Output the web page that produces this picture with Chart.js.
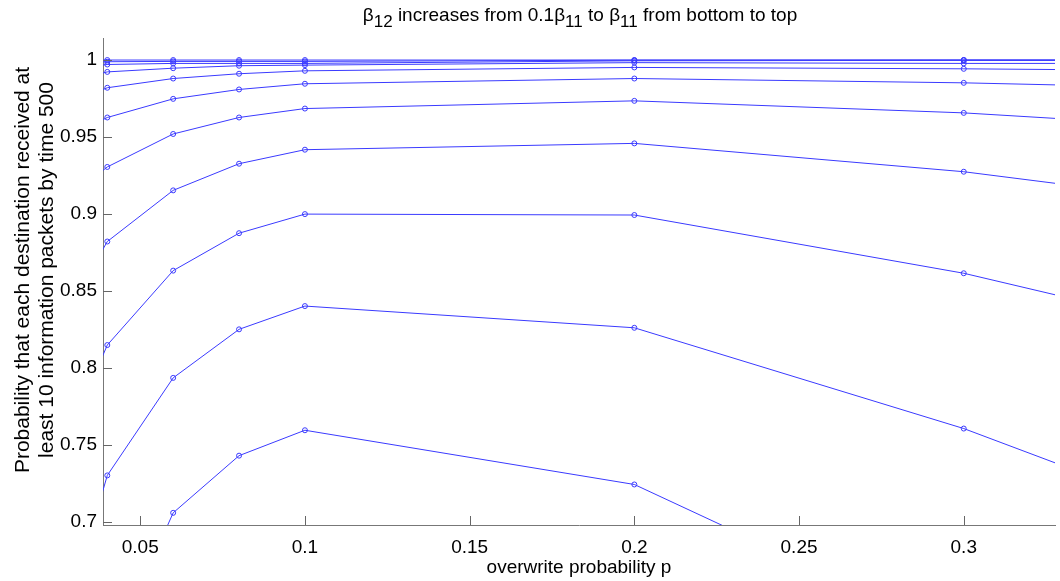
<!DOCTYPE html>
<html lang="en">
<head>
    <meta charset="UTF-8">
    <title>overwrite probability p</title>
    <script src="https://cdn.jsdelivr.net/npm/chart.js"></script>
    <style>
        body {
            margin: 0;
            background: #fff;
            font-family: "Liberation Sans", Arial, sans-serif;
        }

        .wrap {
            position: relative;
            width: 1060px;
            height: 581px;
        }

        /* MATLAB style title with subscripts */
        #title {
            position: absolute;
            top: 4px;
            left: 103px;
            width: 954px;
            text-align: center;
            font-size: 19px;
            line-height: 22px;
            color: #000;
        }

        #title sub {
            font-size: 17px;
            line-height: 0;
            vertical-align: -6px;
        }

        /* y label sits a bit above the middle of the axis, as in the original */
        #ylabel {
            position: absolute;
            left: -196px;
            top: 246px;
            width: 460px;
            height: 48px;
            text-align: center;
            font-size: 21px;
            line-height: 24px;
            color: #000;
            transform: rotate(-90deg);
            white-space: nowrap;
        }
    </style>
</head>
<body>
    <div class="wrap">
        <canvas id="chart" width="1060" height="581"></canvas>
        <div id="title">&beta;<sub>12</sub> increases from 0.1&beta;<sub>11</sub> to &beta;<sub>11</sub> from bottom to top</div>
        <div id="ylabel">Probability that each destination received at<br>least 10 information packets by time 500</div>
    </div>

    <script>
        // overwrite probability p (the first and last points sit outside the visible axis range)
        const pValues = [0.02, 0.04, 0.06, 0.08, 0.1, 0.2, 0.3, 0.4];

        // one curve per beta12 value, from bottom (0.1 beta11) to top (beta11)
        const curve1  = [0.500, 0.610, 0.7061, 0.7432, 0.7597, 0.7245, 0.625, 0.525];
        const curve2  = [0.582, 0.7304, 0.7937, 0.8252, 0.8403, 0.8262, 0.7608, 0.6805];
        const curve3  = [0.7148, 0.815, 0.8633, 0.8876, 0.9000, 0.8994, 0.8616, 0.8112];
        const curve4  = [0.8068, 0.8822, 0.9154, 0.9327, 0.9418, 0.9459, 0.9275, 0.9004];
        const curve5  = [0.897, 0.9306, 0.952, 0.9627, 0.9685, 0.9735, 0.9657, 0.9528];
        const curve6  = [0.9424, 0.9627, 0.9748, 0.9809, 0.9846, 0.988, 0.9852, 0.9804];
        const curve7  = [0.965, 0.982, 0.988, 0.9911, 0.993, 0.9952, 0.9943, 0.9926];
        const curve8  = [0.9815, 0.9923, 0.9947, 0.9963, 0.9967, 0.9983, 0.9978, 0.9978];
        const curve9  = [0.9923, 0.9971, 0.9978, 0.9978, 0.9978, 0.9995, 0.9998, 0.9998];
        const curve10 = [0.997, 0.9989, 0.9991, 0.9991, 0.9991, 0.9999, 1.0, 1.0];
        const curve11 = [0.9995, 1.0, 1.0, 1.0, 1.0, 1.0, 1.0, 1.0];

        const curves = [curve1, curve2, curve3, curve4, curve5, curve6,
                        curve7, curve8, curve9, curve10, curve11];

        // tick labels
        const xTicks = [0.05, 0.1, 0.15, 0.2, 0.25, 0.3];
        const yTicks = [0.7, 0.75, 0.8, 0.85, 0.9, 0.95, 1];

        const blue = '#3a3aff';
        const font19 = { family: '"Liberation Sans", Arial, sans-serif', size: 19 };

        // MATLAB draws its ticks inside the axes
        const inwardTicks = {
            id: 'inwardTicks',
            afterDatasetsDraw(chart) {
                const { ctx, chartArea: a, scales: { x, y } } = chart;
                ctx.save();
                ctx.strokeStyle = '#666';
                ctx.lineWidth = 1;
                ctx.beginPath();
                x.ticks.forEach(t => {
                    const px = Math.round(x.getPixelForValue(t.value)) + 0.5;
                    ctx.moveTo(px, a.bottom);
                    ctx.lineTo(px, a.bottom - 9);
                });
                y.ticks.forEach(t => {
                    const py = Math.round(y.getPixelForValue(t.value)) + 0.5;
                    ctx.moveTo(a.left, py);
                    ctx.lineTo(a.left + 9, py);
                });
                ctx.stroke();
                ctx.restore();
            }
        };

        new Chart(document.getElementById('chart'), {
            type: 'line',
            data: {
                datasets: curves.map((c, i) => ({
                    label: 'curve ' + (i + 1),
                    data: pValues.map((p, j) => ({ x: p, y: c[j] })),
                    borderColor: blue,
                    borderWidth: 1,
                    pointRadius: 2.5,
                    pointBorderWidth: 1,
                    pointBorderColor: blue,
                    pointBackgroundColor: 'rgba(0,0,0,0)',
                    tension: 0,
                    clip: 0
                }))
            },
            options: {
                responsive: false,
                animation: false,
                events: [],
                layout: { padding: { top: 38, right: 3, left: 0, bottom: 0 } },
                plugins: {
                    legend: { display: false },
                    title: { display: false },
                    tooltip: { enabled: false }
                },
                scales: {
                    x: {
                        type: 'linear',
                        min: 0.0387,
                        max: 0.3277,
                        afterBuildTicks: s => { s.ticks = xTicks.map(v => ({ value: v })); },
                        afterFit: s => { s.height = 56; },
                        grid: { drawOnChartArea: false, drawTicks: false },
                        border: { color: '#777' },
                        ticks: {
                            font: font19,
                            color: '#000',
                            padding: 11,
                            maxRotation: 0,
                            callback: v => String(+v.toFixed(2))
                        },
                        title: {
                            display: true,
                            text: 'overwrite probability p',
                            font: font19,
                            color: '#000',
                            padding: { top: 0, bottom: 2 }
                        }
                    },
                    y: {
                        type: 'linear',
                        min: 0.6982,
                        max: 1.0143,
                        afterBuildTicks: s => { s.ticks = yTicks.map(v => ({ value: v })); },
                        afterFit: s => { s.width = 103; },
                        grid: { drawOnChartArea: false, drawTicks: false },
                        border: { color: '#777' },
                        ticks: {
                            font: font19,
                            color: '#000',
                            padding: 6,
                            callback: v => String(+v.toFixed(2))
                        }
                    }
                }
            },
            plugins: [inwardTicks]
        });
    </script>
</body>
</html>
